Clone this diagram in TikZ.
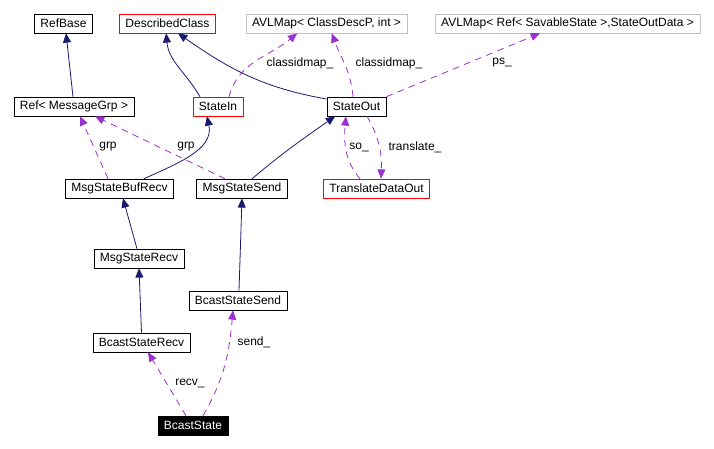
\documentclass[tikz,border=0pt]{standalone}
\usepackage{fontspec}
\setmainfont{Liberation Sans}
\usepackage{xcolor}
\usetikzlibrary{arrows.meta}

\definecolor{inhblue}{RGB}{25,25,112}
\definecolor{usepurple}{RGB}{153,50,204}
\definecolor{boxgray}{RGB}{191,191,191}

\begin{document}
\begin{tikzpicture}[
                x=0.75pt, y=-0.75pt,
                font=\fontsize{9}{10}\selectfont,
                cls/.style={rectangle, draw=black, fill=white, minimum height=14.25pt, inner xsep=4.5pt, inner ysep=1pt},
                redcls/.style={cls, draw=red},
                graycls/.style={cls, draw=boxgray},
                focus/.style={cls, fill=black, text=white},
                inherit/.style={-{Triangle[length=7pt, width=6pt]}, inhblue, line width=0.6pt},
                member/.style={-{Triangle[length=7pt, width=6pt]}, usepurple, line width=0.6pt, dash pattern=on 5pt off 4pt},
                lbl/.style={inner sep=0pt, text=black}
            ]
                \useasboundingbox (0,0) rectangle (714,449);

                % Top row
                \node[cls] (refbase) at (63.5,23.5) {RefBase};
                \node[redcls] (desc) at (167.5,23.5) {DescribedClass};
                \node[graycls] (avlclass) at (326.5,23.5) {AVLMap< ClassDescP, int >};
                \node[graycls] (avlstate) at (567.5,23.5) {AVLMap< Ref< SavableState >,StateOutData >};

                % Second row
                \node[cls] (refmsg) at (74,106.5) {Ref< MessageGrp >};
                \node[redcls] (statein) at (218,106.5) {StateIn};
                \node[cls] (stateout) at (356.5,106.5) {StateOut};

                % Third row
                \node[cls] (bufrecv) at (119.5,188.5) {MsgStateBufRecv};
                \node[cls] (msgsend) at (242,188.5) {MsgStateSend};
                \node[redcls] (translate) at (376.5,188.5) {TranslateDataOut};

                % Lower part
                \node[cls] (msgrecv) at (139,258.5) {MsgStateRecv};
                \node[cls] (bcsend) at (238,300.5) {BcastStateSend};
                \node[cls] (bcrecv) at (141.5,342.5) {BcastStateRecv};
                \node[focus] (bcast) at (193,425.5) {BcastState};

                % Inheritance
                \draw[inherit] ([xshift=-0.75pt]refmsg.north) -- ([xshift=1.9pt]refbase.south);
                \draw[inherit] ([xshift=-13.5pt]statein.north) to[out=120, in=-85] ([xshift=-1pt]desc.south);
                \draw[inherit] ([yshift=5.6pt]stateout.west) to[out=170, in=-35] ([xshift=7.9pt]desc.south);
                \draw[inherit] ([xshift=18.4pt]bufrecv.north) to[out=25, in=-78] ([xshift=-8.25pt]statein.south);
                \draw[inherit] ([xshift=7.5pt]msgsend.north) to[out=40, in=-145] ([xshift=-16pt]stateout.south);
                \draw[inherit] ([xshift=-1.5pt]msgrecv.north) -- ([xshift=2.6pt]bufrecv.south);
                \draw[inherit] ([xshift=0.75pt]bcsend.north) -- (msgsend.south);
                \draw[inherit] (bcrecv.north) -- (msgrecv.south);

                % Members
                \draw[member] ([xshift=8.25pt]statein.north) to[out=75, in=-140] ([xshift=-22pt]avlclass.south);
                \node[lbl] at (300,63) {classidmap\_};
                \draw[member] ([xshift=-2.6pt]stateout.north) to[out=95, in=-70] ([xshift=4pt]avlclass.south);
                \node[lbl] at (389,63) {classidmap\_};
                \draw[member] (stateout.north east) -- ([xshift=-20.6pt]avlstate.south);
                \node[lbl] at (502,63) {ps\_};
                \draw[member] ([xshift=-12.4pt]translate.north) to[out=130, in=-95] ([xshift=-7.9pt]stateout.south);
                \node[lbl] at (359,147) {so\_};
                \draw[member] ([xshift=7.9pt]stateout.south) to[out=-60, in=88] ([xshift=3.4pt]translate.north);
                \node[lbl] at (415,147) {translate\_};
                \draw[member] ([xshift=-8.6pt]bufrecv.north) -- ([xshift=4.5pt]refmsg.south);
                \node[lbl] at (108,147) {grp};
                \draw[member] ([xshift=-12.75pt]msgsend.north) -- ([xshift=15.75pt]refmsg.south);
                \node[lbl] at (186,147) {grp};
                \draw[member] ([xshift=-5.25pt]bcast.north) -- ([xshift=4.9pt]bcrecv.south);
                \node[lbl] at (190,383) {recv\_};
                \draw[member] ([xshift=7.5pt]bcast.north) to[out=60, in=-95] ([xshift=-3.75pt]bcsend.south);
                \node[lbl] at (254,342) {send\_};

            \end{tikzpicture}
\end{document}
